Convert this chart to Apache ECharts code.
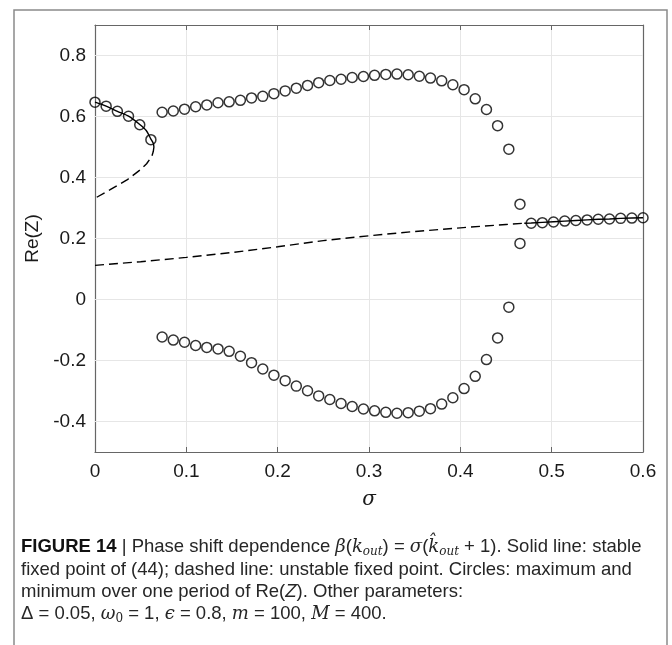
<!DOCTYPE html>
<html>
<head>
<meta charset="utf-8">
<script src="https://cdn.jsdelivr.net/npm/echarts@6/dist/echarts.min.js"></script>
<style>
html,body{margin:0;padding:0;background:#fff;}
#c{width:672px;height:645px;}
</style>
</head>
<body>
<div id="c"></div>
<script>
// sigma sample points (x) for the circles
const sigma = [0, 0.0122, 0.0245, 0.0367, 0.049, 0.0612, 0.0735, 0.0857, 0.098, 0.1102,
  0.1224, 0.1347, 0.1469, 0.1592, 0.1714, 0.1837, 0.1959, 0.2082, 0.2204, 0.2327,
  0.2449, 0.2571, 0.2694, 0.2816, 0.2939, 0.3061, 0.3184, 0.3306, 0.3429, 0.3551,
  0.3673, 0.3796, 0.3918, 0.4041, 0.4163, 0.4286, 0.4408, 0.4531, 0.4653, 0.4776,
  0.4898, 0.502, 0.5143, 0.5265, 0.5388, 0.551, 0.5633, 0.5755, 0.5878, 0.6];
// maximum of Re(Z) over one period
const maxRe = [0.647, 0.634, 0.617, 0.601, 0.573, 0.524,
  0.614, 0.618, 0.624, 0.632, 0.638, 0.645, 0.648, 0.653, 0.661, 0.666, 0.675, 0.684,
  0.693, 0.702, 0.711, 0.718, 0.722, 0.728, 0.731, 0.735, 0.738, 0.739, 0.737, 0.732,
  0.726, 0.717, 0.704, 0.688, 0.658, 0.623, 0.570, 0.493, 0.3125,
  0.250, 0.252, 0.254, 0.257, 0.259, 0.261, 0.263, 0.264, 0.266, 0.267, 0.268];
// minimum of Re(Z) over one period (null where max == min)
const minRe = [null, null, null, null, null, null,
  -0.123, -0.133, -0.140, -0.151, -0.157, -0.162, -0.170, -0.186, -0.207, -0.228, -0.248,
  -0.266, -0.284, -0.299, -0.316, -0.328, -0.341, -0.351, -0.359, -0.365, -0.370, -0.373,
  -0.371, -0.366, -0.358, -0.343, -0.322, -0.292, -0.252, -0.197, -0.126, -0.025, 0.184,
  null, null, null, null, null, null, null, null, null, null, null];

// stable fixed point (solid) – upper fold branch
const stableUpSigma = [0, 0.0122, 0.0245, 0.0367, 0.049, 0.0561, 0.0612, 0.0638, 0.0645];
const stableUpVal   = [0.647, 0.634, 0.617, 0.601, 0.574, 0.554, 0.526, 0.512, 0.500];
// unstable fixed point (dashed) – lower part of fold
const unstableUpSigma = [0.0645, 0.0638, 0.0622, 0.0565, 0.0495, 0.035, 0.0166, 0];
const unstableUpVal   = [0.500, 0.485, 0.469, 0.445, 0.425, 0.392, 0.360, 0.332];
// unstable fixed point (dashed) – lower branch
const unstableLowSigma = [0, 0.05, 0.1, 0.15, 0.2, 0.25, 0.3, 0.35, 0.4, 0.45, 0.47];
const unstableLowVal   = [0.112, 0.124, 0.138, 0.154, 0.173, 0.193, 0.209, 0.223, 0.235, 0.246, 0.250];
// stable fixed point (solid) – lower branch after Hopf
const stableLowSigma = [0.47, 0.4776, 0.4898, 0.502, 0.5143, 0.5265, 0.5388, 0.551, 0.5633, 0.5755, 0.5878, 0.6];
const stableLowVal   = [0.250, 0.251, 0.253, 0.255, 0.257, 0.259, 0.261, 0.263, 0.264, 0.266, 0.267, 0.268];

const xTicks = [0, 0.1, 0.2, 0.3, 0.4, 0.5, 0.6];
const yTicks = [-0.4, -0.2, 0, 0.2, 0.4, 0.6, 0.8];

const zip = (a, b) => a.map((v, i) => [v, b[i]]);
const maxPts = sigma.map((s, i) => [s, maxRe[i]]);
const minPts = sigma.map((s, i) => [s, minRe[i]]).filter(p => p[1] !== null);

const AX = '#666666';
const LBL = '#1a1a1a';
const GRID = '#e6e6e6';
const tickFont = {fontFamily: 'Liberation Sans, Arial, sans-serif', fontSize: 19, color: LBL};
const fmt = v => String(+(+v).toFixed(1));

const chart = echarts.init(document.getElementById('c'), null, {renderer: 'canvas'});

const lineStyleBase = {color: '#000', width: 1.4};
const baseX = {type: 'value', min: 0, max: 0.6, interval: 0.1,
  axisLine: {show: true, onZero: false, lineStyle: {color: AX, width: 1.2}},
  axisTick: {show: true, inside: true, length: 5, lineStyle: {color: AX}}};
const baseY = {type: 'value', min: -0.5, max: 0.9,
  axisLine: {show: true, onZero: false, lineStyle: {color: AX, width: 1.2}},
  axisTick: {show: true, inside: true, length: 5, lineStyle: {color: AX},
    customValues: yTicks},
  axisLabel: {show: false, customValues: yTicks},
  splitLine: {show: false}};

const capFont = '18.5px "Liberation Sans", Arial, sans-serif';
const capFill = '#262626';
const serifI = {fontStyle: 'italic', fontSize: 18, fontFamily: 'DejaVu Serif, serif', lineHeight: 22};
const subI = {fontStyle: 'italic', fontSize: 12, fontFamily: 'DejaVu Serif, serif', verticalAlign: 'bottom', lineHeight: 16};

chart.setOption({
  animation: false,
  backgroundColor: '#fff',
  grid: {left: 95, right: 29, top: 25, bottom: 193, containLabel: false},
  xAxis: [
    Object.assign({}, baseX, {position: 'bottom',
      axisLabel: Object.assign({margin: 10, formatter: fmt}, tickFont),
      splitLine: {show: true, lineStyle: {color: GRID, width: 1}},
      name: 'σ', nameLocation: 'middle', nameGap: 38,
      nameTextStyle: {fontFamily: 'DejaVu Serif, Liberation Serif, serif', fontStyle: 'italic', fontSize: 20, color: LBL}}),
    Object.assign({}, baseX, {position: 'top', axisLabel: {show: false}, splitLine: {show: false}})
  ],
  yAxis: [
    Object.assign({}, baseY, {position: 'left',
      axisLabel: Object.assign({show: true, margin: 9, formatter: fmt, customValues: yTicks}, tickFont),
      name: 'Re(Z)', nameLocation: 'middle', nameGap: 41, nameRotate: 90,
      nameTextStyle: {fontFamily: 'Liberation Sans, Arial, sans-serif', fontSize: 19, color: LBL}}),
    Object.assign({}, baseY, {position: 'right'})
  ],
  series: [
    {type: 'line', data: zip(unstableLowSigma, unstableLowVal), symbol: 'none', silent: true,
      lineStyle: Object.assign({type: [9, 5]}, lineStyleBase), z: 3,
      markLine: {silent: true, symbol: 'none', label: {show: false},
        lineStyle: {color: GRID, width: 1, type: 'solid'},
        data: yTicks.map(v => ({yAxis: v})), z: 1}},
    {type: 'line', data: zip(unstableUpSigma, unstableUpVal), symbol: 'none', silent: true,
      lineStyle: Object.assign({type: [9, 5]}, lineStyleBase), z: 3},
    {type: 'line', data: zip(stableUpSigma, stableUpVal), symbol: 'none', silent: true, smooth: 0.3,
      lineStyle: Object.assign({type: 'solid'}, lineStyleBase), z: 3},
    {type: 'line', data: zip(stableLowSigma, stableLowVal), symbol: 'none', silent: true,
      lineStyle: Object.assign({type: 'solid'}, lineStyleBase), z: 3},
    {type: 'scatter', data: maxPts, symbol: 'circle', symbolSize: 10, z: 4,
      itemStyle: {color: 'rgba(0,0,0,0)', borderColor: '#000', borderWidth: 1.5}},
    {type: 'scatter', data: minPts, symbol: 'circle', symbolSize: 10, z: 4,
      itemStyle: {color: 'rgba(0,0,0,0)', borderColor: '#000', borderWidth: 1.5}}
  ],
  graphic: [
    {type: 'rect', shape: {x: 14, y: 10, width: 653, height: 660}, silent: true, z: -1,
      style: {fill: 'none', stroke: '#8a8a8a', lineWidth: 1.5}},
    {type: 'text', x: 21, y: 547, silent: true, style: {
      text: '{b|FIGURE 14} | Phase shift dependence {i|β}({i|k}{s|out}) = {i|σ}({i|k̂}{s|out} + 1). Solid line: stable',
      font: capFont, fill: capFill, verticalAlign: 'middle',
      rich: {
        b: {fontWeight: 'bold', fontSize: 18.5, fontFamily: 'Liberation Sans, Arial, sans-serif', fill: '#111', lineHeight: 22},
        i: serifI, s: subI
      }}},
    {type: 'text', x: 21, y: 570, silent: true, style: {
      text: 'fixed point of (44); dashed line: unstable fixed point. Circles: maximum and',
      font: capFont, fill: capFill, verticalAlign: 'middle'}},
    {type: 'text', x: 21, y: 592, silent: true, style: {
      text: 'minimum over one period of Re({i|Z}). Other parameters:',
      font: capFont, fill: capFill, verticalAlign: 'middle',
      rich: {i: {fontStyle: 'italic', fontSize: 18.5, fontFamily: 'Liberation Sans, Arial, sans-serif', lineHeight: 22}}}},
    {type: 'text', x: 21, y: 614, silent: true, style: {
      text: 'Δ = 0.05, {i|ω}{s|0} = 1, {i|ϵ} = 0.8, {i|m} = 100, {i|M} = 400.',
      font: capFont, fill: capFill, verticalAlign: 'middle',
      rich: {
        i: serifI,
        s: {fontSize: 12, fontFamily: 'DejaVu Serif, serif', verticalAlign: 'bottom', lineHeight: 16}
      }}}
  ]
});
</script>
</body>
</html>
